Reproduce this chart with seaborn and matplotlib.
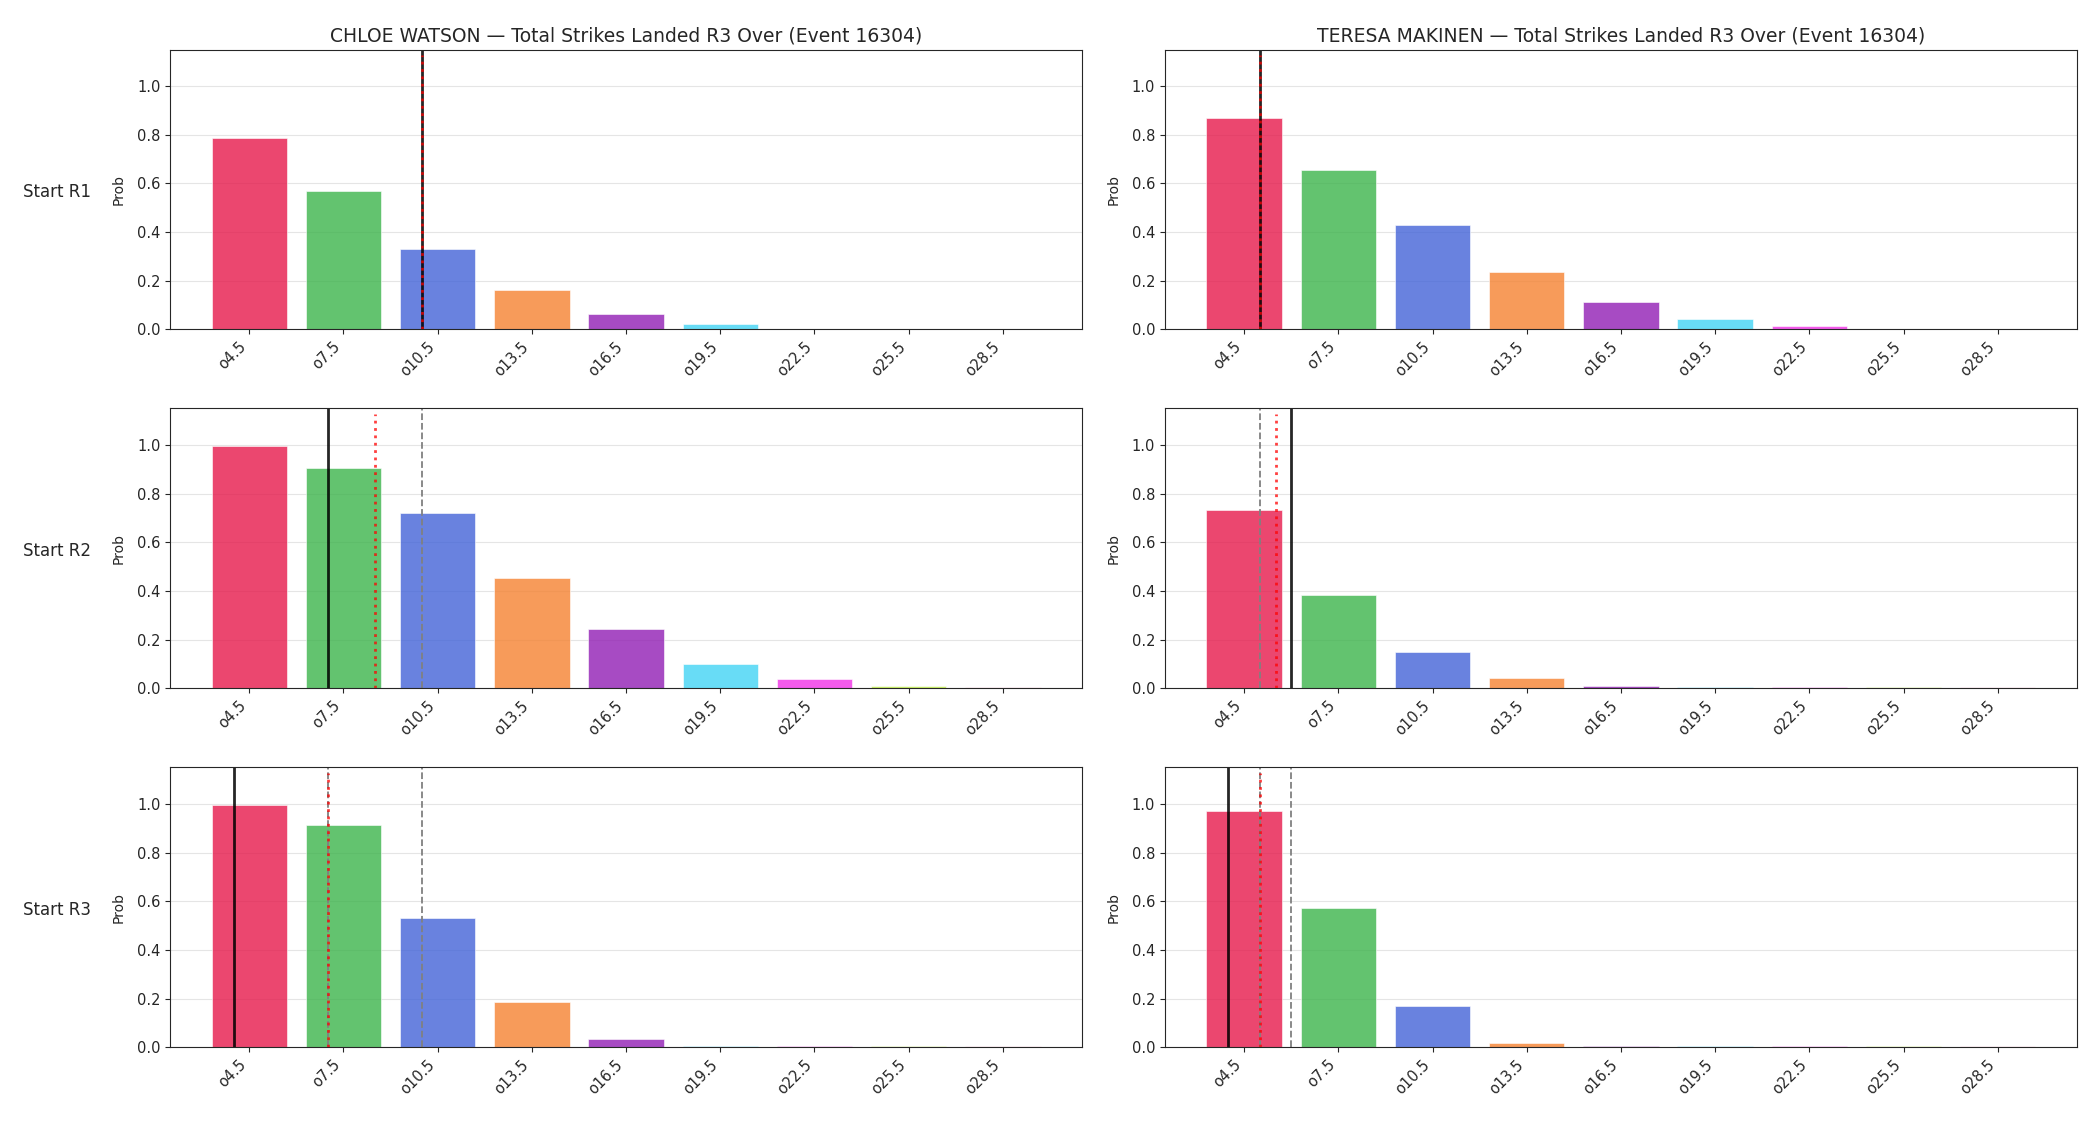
import numpy as np
import seaborn as sns
import pandas as pd
from matplotlib import pyplot as plt

# strike lines shown on the x axis
line_vals = [4.5, 7.5, 10.5, 13.5, 16.5, 19.5, 22.5, 25.5, 28.5]
line_labels = ['o4.5', 'o7.5', 'o10.5', 'o13.5', 'o16.5', 'o19.5', 'o22.5', 'o25.5', 'o28.5']
bar_colors = ['#e6194b', '#3cb44b', '#4363d8', '#f58231', '#911eb4',
              '#42d4f4', '#f032e6', '#bfef45', '#fabed4']

fighters = ['CHLOE WATSON', 'TERESA MAKINEN']
starts = ['Start R1', 'Start R2', 'Start R3']

# over probabilities per start round
chloe_r1 = [0.788, 0.570, 0.329, 0.163, 0.064, 0.023, 0.003, 0.001, 0.0003]
chloe_r2 = [0.997, 0.907, 0.719, 0.453, 0.244, 0.101, 0.040, 0.011, 0.005]
chloe_r3 = [0.997, 0.915, 0.531, 0.186, 0.036, 0.005, 0.005, 0.004, 0.004]
teresa_r1 = [0.870, 0.656, 0.430, 0.237, 0.111, 0.044, 0.015, 0.004, 0.001]
teresa_r2 = [0.731, 0.383, 0.150, 0.044, 0.011, 0.004, 0.004, 0.004, 0.004]
teresa_r3 = [0.969, 0.571, 0.169, 0.018, 0.006, 0.005, 0.005, 0.005, 0.004]

# reference markers (in strikes): current, model mean, earlier starts
chloe_now = [10.0, 7.0, 4.0]
chloe_mean = [10.0, 8.5, 7.0]
chloe_prev = [[], [10.0], [10.0, 7.0]]
teresa_now = [5.0, 6.0, 4.0]
teresa_mean = [5.0, 5.5, 5.0]
teresa_prev = [[], [5.0], [5.0, 6.0]]

probs = {'CHLOE WATSON': [chloe_r1, chloe_r2, chloe_r3],
         'TERESA MAKINEN': [teresa_r1, teresa_r2, teresa_r3]}
now = {'CHLOE WATSON': chloe_now, 'TERESA MAKINEN': teresa_now}
mean = {'CHLOE WATSON': chloe_mean, 'TERESA MAKINEN': teresa_mean}
prev = {'CHLOE WATSON': chloe_prev, 'TERESA MAKINEN': teresa_prev}


def to_pos(v):
    # strike value -> category position on the bar axis
    return (v - line_vals[0]) / (line_vals[1] - line_vals[0])


sns.set_style('ticks')
fig, axes = plt.subplots(3, 2, figsize=(21, 11.25), dpi=100)
fig.subplots_adjust(left=0.081, right=0.989, top=0.956, bottom=0.069,
                    wspace=0.091, hspace=0.282)

for c, name in enumerate(fighters):
    for r in range(3):
        ax = axes[r, c]
        df = pd.DataFrame({'line': line_labels, 'prob': probs[name][r]})
        sns.barplot(data=df, x='line', y='prob', hue='line', palette=bar_colors,
                    legend=False, saturation=1, alpha=0.8, width=0.8,
                    edgecolor='white', linewidth=0.5, ax=ax)
        ax.set_xlim(auto=True)
        ax.autoscale(enable=True, axis='x')
        ax.margins(x=0.05)
        ax.set_ylim(0, 1.15)
        ax.set_yticks([0, 0.2, 0.4, 0.6, 0.8, 1.0])
        ax.tick_params(labelsize=10.5)

        for v in prev[name][r]:
            ax.axvline(to_pos(v), color='gray', ls='--', lw=1.3)
        ax.axvline(to_pos(now[name][r]), color='black', alpha=0.85, lw=2)
        ax.axvline(to_pos(mean[name][r]), color='red', alpha=0.75, ls=':',
                   lw=2, ymax=0.98)

        ax.grid(axis='y', color='.8', alpha=0.5, lw=0.8)
        for s in ax.spines.values():
            s.set_visible(True)
        ax.set_xlabel('')
        ax.set_ylabel('Prob', fontsize=10, labelpad=8)
        plt.setp(ax.get_xticklabels(), rotation=45, ha='right')
        if r == 0:
            ax.set_title(f'{name} \u2014 Total Strikes Landed R3 Over (Event 16304)',
                         fontsize=13.5)
        if c == 0:
            ax.text(-0.087, 0.49, starts[r], transform=ax.transAxes,
                    ha='right', va='center', fontsize=12)

fig.savefig('out.png')
